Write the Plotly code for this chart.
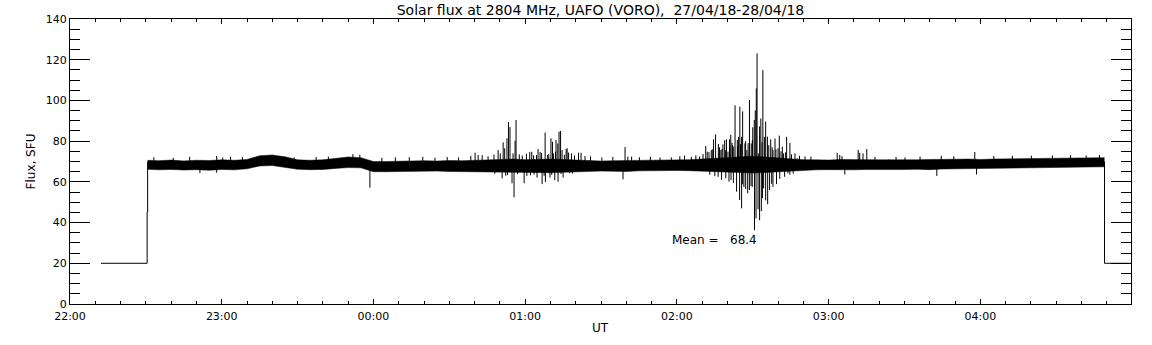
import plotly.graph_objects as go
from datetime import datetime, timedelta

# ---------------- data ----------------
title_text = "Solar flux at 2804 MHz, UAFO (VORO),\u00a0\u00a027/04/18-28/04/18"
mean_value = 68.4

# leading section (level 20 before the record starts)
lead_times = ["22:12:15", "22:30:30", "22:30:30", "22:30:42", "22:30:42"]
lead_flux = [20, 20, 45, 45, 70]

# trailing section
tail_times = ["04:49:06", "04:49:06", "04:59:35"]
tail_flux = [70, 20, 20]

# envelope of the dense noisy record
band_times = ["22:30:42", "22:35", "22:40", "22:45", "22:50", "22:55",
              "23:00", "23:05", "23:10", "23:15", "23:20", "23:25",
              "23:30", "23:35", "23:40", "23:45", "23:50", "23:55",
              "00:00", "00:05", "00:10", "00:15", "00:20", "00:25",
              "00:30", "00:35", "00:40", "00:45", "00:50", "00:55",
              "01:00", "01:05", "01:10", "01:15", "01:20", "01:25",
              "01:30", "01:35", "01:40", "01:45", "01:50", "01:55",
              "02:00", "02:05", "02:10", "02:15", "02:20", "02:25",
              "02:30", "02:35", "02:40", "02:45", "02:50", "02:55",
              "03:00", "03:05", "03:10", "03:15", "03:20", "03:25",
              "03:30", "03:35", "03:40", "03:45", "03:50", "03:55",
              "04:00", "04:05", "04:10", "04:15", "04:20", "04:25",
              "04:30", "04:35", "04:40", "04:45", "04:49:06"]
band_upper = [70.6, 70.4, 70.7, 70.3, 70.6, 70.5,
              70.8, 70.6, 71.0, 72.8, 73.2, 72.3,
              70.8, 70.6, 70.8, 71.5, 72.2, 71.9,
              70.0, 70.0, 70.2, 70.3, 70.4, 70.2,
              70.5, 70.4, 70.6, 70.7, 71.0, 71.2,
              70.9, 71.1, 71.2, 71.0, 70.7, 70.4,
              70.2, 70.4, 70.5, 70.3, 70.6, 70.7,
              70.8, 70.9, 71.2, 71.6, 72.0, 72.4,
              72.6, 72.2, 71.7, 71.2, 70.9, 70.8,
              70.7, 71.0, 71.1, 70.9, 70.8, 70.7,
              70.9, 70.8, 71.0, 70.9, 71.1, 71.2,
              71.0, 71.2, 71.3, 71.4, 71.5, 71.6,
              71.8, 71.9, 72.0, 72.0, 71.9]
band_lower = [66.2, 65.9, 66.1, 65.8, 66.0, 65.7,
              66.1, 65.9, 66.4, 67.8, 68.0, 67.1,
              66.2, 66.0, 66.1, 66.6, 67.0, 66.9,
              65.0, 65.0, 65.1, 65.2, 65.1, 65.3,
              65.1, 65.0, 64.9, 64.8, 64.6, 64.5,
              64.7, 64.6, 64.5, 64.7, 65.0, 65.2,
              65.3, 65.2, 65.1, 65.4, 65.5, 65.7,
              65.6, 65.5, 65.3, 65.0, 64.8, 64.5,
              64.3, 64.6, 65.0, 65.4, 65.7, 65.9,
              66.0, 65.8, 65.9, 66.1, 66.0, 66.2,
              66.1, 66.2, 66.0, 66.3, 66.4, 66.3,
              66.5, 66.6, 66.7, 66.7, 66.9, 67.0,
              67.1, 67.3, 67.4, 67.5, 67.4]

# upward spikes: time and peak flux
up_times = ["22:40:50", "22:58:00", "23:00:24", "23:51:52", "23:54:37",
            "00:40:12", "00:41:24", "00:49:18", "00:51:18", "00:51:54",
            "00:52:48", "00:53:24", "00:54:00", "00:55:12", "00:56:00",
            "00:56:24", "01:01:48", "01:02:36", "01:04:30", "01:05:06",
            "01:05:54", "01:07:54", "01:08:54", "01:10:12", "01:10:48",
            "01:12:00", "01:12:12", "01:12:54", "01:13:24", "01:14:00",
            "01:14:36", "01:16:12", "01:16:36", "01:18:18", "01:21:06",
            "01:22:06", "01:39:30", "01:40:36", "01:42:06",
            "01:57:48", "02:05:42", "02:09:00", "02:11:24", "02:12:42",
            "02:13:36", "02:14:30", "02:15:18", "02:16:24", "02:17:24",
            "02:18:12", "02:18:54", "02:19:36", "02:20:12", "02:20:48",
            "02:21:18", "02:21:48", "02:22:30", "02:23:00", "02:23:54",
            "02:24:24", "02:24:54", "02:25:36", "02:26:00", "02:26:54",
            "02:27:42", "02:28:42", "02:29:24", "02:30:00", "02:30:36",
            "02:31:00", "02:31:24", "02:31:42", "02:32:12", "02:32:42",
            "02:33:12", "02:34:00", "02:34:36", "02:35:06", "02:35:48",
            "02:37:06", "02:38:00", "02:38:48", "02:40:00", "02:40:30",
            "02:41:42", "02:42:12", "02:43:24", "02:44:42", "02:46:42",
            "02:47:36", "03:03:24", "03:04:24", "03:05:18", "03:11:42",
            "03:12:18", "03:13:36", "03:15:06", "03:23:48", "03:30:12",
            "03:44:33", "03:57:48", "04:41:52", "04:47:07"]
up_flux = [71.8, 72.7, 72.0, 73.6, 73.3,
           74.3, 73.2, 75.6, 79.4, 76.5,
           81.4, 89.4, 86.9, 74.0, 80.2,
           90.4, 74.7, 74.8, 73.2, 76.1,
           74.7, 84.2, 73.2, 81.4, 79.7,
           74.8, 80.6, 78.9, 84.7, 85.0,
           75.6, 76.1, 76.5, 73.9, 74.3,
           74.3, 77.1, 72.4, 72.4,
           72.0, 72.3, 72.4, 77.6, 74.6,
           75.6, 80.9, 83.3, 78.6, 75.6,
           78.4, 80.5, 80.9, 74.8, 80.9,
           83.1, 79.2, 77.3, 97.6, 80.6,
           82.1, 96.9, 82.1, 94.6, 78.9,
           75.6, 100.2, 78.9, 86.8, 90.4,
           95.1, 105.9, 123.1, 74.0, 87.2,
           91.1, 114.9, 82.1, 89.6, 82.2,
           80.9, 75.6, 81.3, 76.5, 82.7,
           77.3, 74.0, 82.1, 79.2, 74.0,
           71.6, 74.3, 73.2, 72.6, 75.7,
           74.3, 74.0, 76.1, 71.0, 72.0,
           72.8, 74.7, 73.0, 73.2]

# smaller upward excursions along the band edge
small_up_times = ["22:33:10", "22:47:20", "23:03:30", "23:08:10", "23:28:40",
                  "23:37:20", "23:42:10", "00:03:20", "00:08:40", "00:14:10",
                  "00:19:30", "00:24:20", "00:29:10", "00:33:40", "00:38:30",
                  "00:43:00", "00:45:20", "00:47:40", "00:50:10", "00:57:40",
                  "00:58:50", "01:00:30", "01:03:20", "01:06:30", "01:09:20",
                  "01:11:10", "01:15:30", "01:17:10", "01:19:30", "01:23:40",
                  "01:25:50", "01:30:20", "01:34:40", "01:45:10", "01:49:30",
                  "01:53:20", "02:01:10", "02:03:00", "02:07:30", "02:10:20",
                  "02:12:00", "02:14:00", "02:16:50", "02:17:50", "02:19:10",
                  "02:21:00", "02:22:00", "02:24:00", "02:25:10", "02:27:10",
                  "02:28:10", "02:29:50", "02:33:40", "02:36:20", "02:37:40",
                  "02:39:10", "02:41:10", "02:43:00", "02:45:20", "02:48:30",
                  "02:50:40", "02:53:00", "03:18:20", "03:26:40", "03:36:10",
                  "03:49:30", "04:05:20", "04:12:40", "04:20:10", "04:28:30",
                  "04:35:40"]
small_up_flux = [72.1, 72.3, 72.4, 72.2, 72.0,
                 72.2, 72.4, 71.8, 72.0, 72.1,
                 72.3, 71.9, 72.2, 72.0, 72.8,
                 73.1, 72.6, 73.4, 74.0, 73.5,
                 72.9, 73.8, 73.0, 74.2, 73.6,
                 74.0, 73.3, 74.4, 73.0, 72.7,
                 72.5, 72.0, 72.2, 72.1, 72.3,
                 72.0, 72.6, 72.9, 73.0, 73.6,
                 74.8, 76.0, 77.0, 76.2, 75.5,
                 76.8, 78.0, 77.5, 78.5, 80.0,
                 79.0, 80.5, 79.5, 78.0, 77.0,
                 76.0, 75.0, 74.5, 73.5, 72.8,
                 72.5, 72.4, 72.3, 72.2, 72.4,
                 72.6, 72.7, 72.8, 72.9, 73.0,
                 73.1]

# downward spikes: time and lowest flux
down_times = ["22:51:23", "22:58:00", "23:58:36",
              "00:48:00", "00:50:54", "00:52:18", "00:53:00", "00:54:48",
              "00:55:36", "00:57:00", "00:59:36", "01:00:40", "01:02:06",
              "01:03:30", "01:04:42", "01:06:42", "01:07:30", "01:08:00",
              "01:09:48", "01:10:30", "01:11:42", "01:13:00", "01:14:10",
              "01:15:00", "01:17:36", "01:18:40", "01:38:42",
              "02:13:00", "02:15:00", "02:16:18", "02:17:40", "02:19:20",
              "02:20:36", "02:21:24", "02:22:20", "02:23:36", "02:24:48",
              "02:25:36", "02:26:00", "02:26:30", "02:27:12", "02:28:00",
              "02:28:40", "02:29:20", "02:29:48", "02:30:42", "02:31:18",
              "02:32:06", "02:32:42", "02:33:24", "02:33:50", "02:34:18",
              "02:35:06", "02:35:54", "02:36:40", "02:37:30", "02:38:00",
              "02:39:24", "02:40:40", "02:42:36", "02:43:54", "02:44:40",
              "02:46:00", "03:06:24", "03:42:48", "03:58:30"]
down_flux = [64.3, 64.5, 57.1,
             64.0, 61.7, 63.0, 63.3, 59.3,
             52.4, 63.8, 59.3, 62.9, 63.2,
             63.6, 62.1, 58.9, 63.0, 59.9,
             62.1, 63.4, 60.9, 60.1, 63.9,
             62.1, 64.2, 64.1, 61.2,
             63.5, 62.8, 62.5, 61.0, 61.8,
             60.1, 60.9, 59.5, 55.2, 51.1,
             47.0, 58.8, 57.5, 56.5, 54.4,
             56.0, 58.0, 57.5, 36.3, 42.1,
             46.5, 41.2, 45.6, 52.0, 56.8,
             50.9, 49.0, 56.0, 59.0, 57.5,
             58.9, 61.5, 62.5, 64.2, 63.5,
             64.0, 63.6, 62.9, 63.6]

y_ticks = [0, 20, 40, 60, 80, 100, 120, 140]
x_range = ["22:00", "04:59:35"]


# ---------------- helpers ----------------
def ts(hms):
    parts = [int(p) for p in hms.split(":")]
    while len(parts) < 3:
        parts.append(0)
    h, m, s = parts
    base = datetime(2018, 4, 27)
    if h < 12:
        base += timedelta(days=1)
    return base + timedelta(hours=h, minutes=m, seconds=s)


def spike_segments(times, values, base):
    xs, ys = [], []
    for t, v in zip(times, values):
        xs += [ts(t), ts(t), None]
        ys += [base, v, None]
    return xs, ys


BLACK = "#000000"
FONT = "DejaVu Sans"

fig = go.Figure()

fig.add_trace(go.Scatter(x=[ts(t) for t in lead_times], y=lead_flux, mode="lines",
                         line=dict(color=BLACK, width=1), hoverinfo="skip"))
fig.add_trace(go.Scatter(x=[ts(t) for t in tail_times], y=tail_flux, mode="lines",
                         line=dict(color=BLACK, width=1), hoverinfo="skip"))

bt = [ts(t) for t in band_times]
fig.add_trace(go.Scatter(x=bt, y=band_lower, mode="lines",
                         line=dict(color=BLACK, width=0.5), hoverinfo="skip"))
fig.add_trace(go.Scatter(x=bt, y=band_upper, mode="lines", fill="tonexty",
                         fillcolor=BLACK, line=dict(color=BLACK, width=0.5),
                         hoverinfo="skip"))

for times, vals in ((up_times, up_flux), (small_up_times, small_up_flux),
                    (down_times, down_flux)):
    sx, sy = spike_segments(times, vals, 68)
    fig.add_trace(go.Scatter(x=sx, y=sy, mode="lines", connectgaps=False,
                             line=dict(color=BLACK, width=1), hoverinfo="skip"))

fig.add_annotation(x=ts("01:57:10"), y=31.4, xref="x", yref="y",
                   text="Mean =\u00a0\u00a0\u00a0" + f"{mean_value:.1f}",
                   showarrow=False, xanchor="left", yanchor="middle",
                   font=dict(family=FONT, size=12, color=BLACK))
fig.add_annotation(x=-0.0368, y=0.5, xref="paper", yref="paper", text="Flux, SFU",
                   textangle=-90, showarrow=False, xanchor="center", yanchor="middle",
                   font=dict(family=FONT, size=12, color=BLACK))
fig.add_annotation(x=0.5, y=-0.084, xref="paper", yref="paper", text="UT",
                   showarrow=False, xanchor="center", yanchor="middle",
                   font=dict(family=FONT, size=12, color=BLACK))

fig.update_layout(
    width=1152, height=345,
    margin=dict(l=70, r=21, t=19, b=41),
    paper_bgcolor="white", plot_bgcolor="white",
    showlegend=False,
    title=dict(text=title_text, x=0.5, xref="paper", xanchor="center",
               y=1 - 10 / 345, yref="container", yanchor="middle",
               font=dict(family=FONT, size=14, color=BLACK)),
    font=dict(family=FONT, size=11, color=BLACK),
)

fig.update_xaxes(
    type="date", range=[ts(x_range[0]), ts(x_range[1])],
    tick0=ts("22:00"), dtick=3600000, tickformat="%H:%M",
    ticks="inside", ticklen=5, tickwidth=1, tickcolor=BLACK,
    ticklabelstandoff=2,
    showline=True, linecolor=BLACK, linewidth=1, mirror="ticks",
    showgrid=False, zeroline=False,
    tickfont=dict(family=FONT, size=11, color=BLACK),
    minor=dict(dtick=600000, tick0=ts("22:00"), ticks="inside", ticklen=3,
               tickwidth=1, tickcolor=BLACK, showgrid=False),
)
fig.update_yaxes(
    range=[0, 140], tickvals=y_ticks,
    ticks="inside", ticklen=20, tickwidth=1, tickcolor=BLACK,
    showline=True, linecolor=BLACK, linewidth=1, mirror="ticks",
    showgrid=False, zeroline=False,
    tickfont=dict(family=FONT, size=11, color=BLACK),
    minor=dict(dtick=5, tick0=0, ticks="inside", ticklen=10,
               tickwidth=1, tickcolor=BLACK, showgrid=False),
)

fig.write_html("out.html",
               config={"displayModeBar": False},
               post_script="document.body.style.margin='0';"
                           "document.body.style.overflow='hidden';")
